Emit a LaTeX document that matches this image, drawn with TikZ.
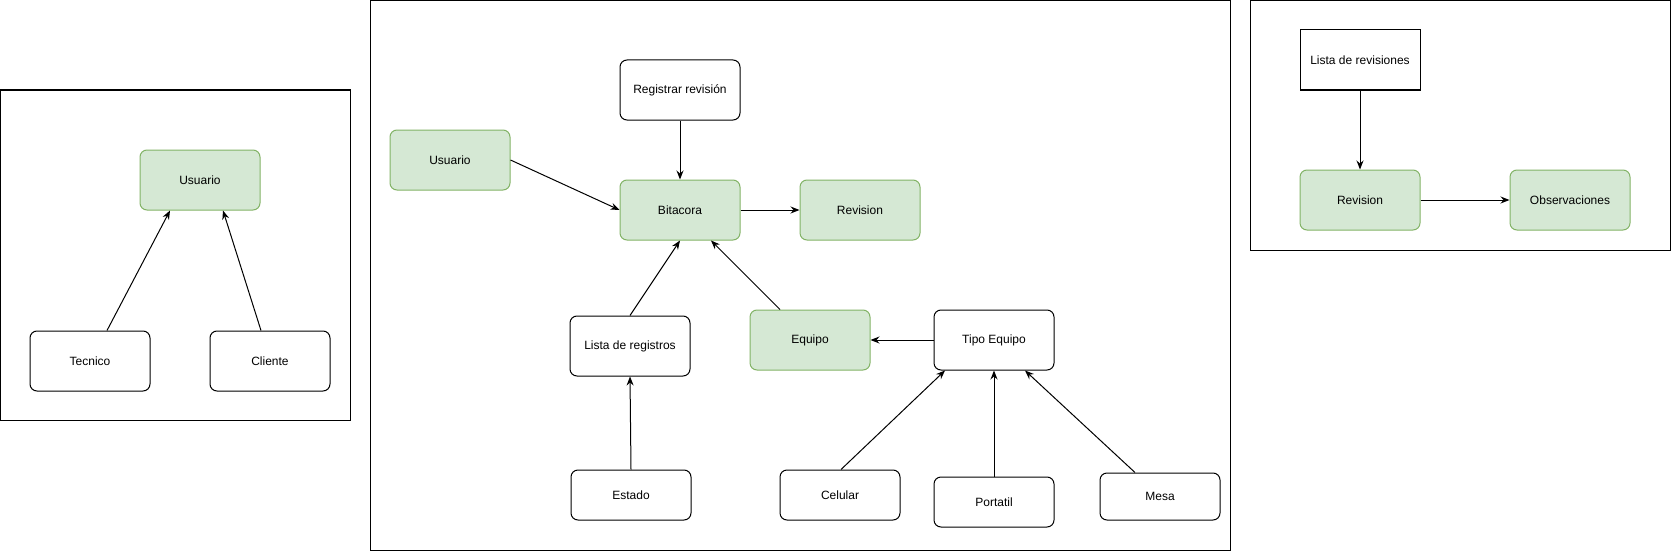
\documentclass[tikz,border=0pt]{standalone}
\usepackage{fontspec}
\setmainfont{Liberation Sans}
\usetikzlibrary{arrows.meta}
\definecolor{gfill}{HTML}{D5E8D4}
\definecolor{gline}{HTML}{82B366}
\tikzset{
  base/.style={draw, line width=1pt, minimum width=120pt, minimum height=60pt, inner sep=0pt, font=\fontsize{12pt}{14pt}\selectfont, rounded corners=7pt},
  plainbox/.style={base, fill=white, draw=black},
  greenbox/.style={base, fill=gfill, draw=gline},
  sharpbox/.style={base, rounded corners=0pt, fill=white, draw=black},
  frame/.style={draw=black, line width=1pt},
  conn/.style={draw=black, line width=1pt, -{Stealth[length=9pt,width=7pt,inset=3pt]}}
}
\begin{document}
\begin{tikzpicture}[x=1pt,y=-1pt]
\useasboundingbox (0,0) rectangle (1671,551);
% frames
\draw[frame] (0.5,90) rectangle (350.5,420);
\draw[frame] (370,1) rectangle (1230,550);
\draw[frame] (1250,1) rectangle (1670,250);
% left panel
\node[greenbox] (usuL) at (200,180) {Usuario};
\node[plainbox] (tec) at (90,361) {Tecnico};
\node[plainbox] (cli) at (270,361) {Cliente};
\draw[conn] ([xshift=17pt]tec.north) -- ([xshift=-30pt]usuL.south);
\draw[conn] ([xshift=-9pt]cli.north) -- ([xshift=23pt]usuL.south);
% middle panel
\node[greenbox] (usuM) at (450,160) {Usuario};
\node[plainbox] (reg) at (680,90) {Registrar revisión};
\node[greenbox] (bit) at (680,210) {Bitacora};
\node[greenbox] (revM) at (860,210) {Revision};
\node[plainbox] (lreg) at (630,346) {Lista de registros};
\node[greenbox] (equ) at (810,340) {Equipo};
\node[plainbox] (tipo) at (994,340) {Tipo Equipo};
\node[plainbox, minimum height=50pt] (est) at (631,495) {Estado};
\node[plainbox, minimum height=50pt] (cel) at (840,495) {Celular};
\node[plainbox, minimum height=50pt] (por) at (994,502) {Portatil};
\node[plainbox, minimum height=47pt] (mes) at (1160,496.5) {Mesa};
\draw[conn] (usuM.east) -- (bit.west);
\draw[conn] (reg.south) -- (bit.north);
\draw[conn] (bit.east) -- (revM.west);
\draw[conn] (lreg.north) -- (bit.south);
\draw[conn] ([xshift=-30pt]equ.north) -- ([xshift=31pt]bit.south);
\draw[conn] (tipo.west) -- (equ.east);
\draw[conn] (est.north) -- (lreg.south);
\draw[conn] ([xshift=1pt]cel.north) -- ([xshift=-49pt]tipo.south);
\draw[conn] (por.north) -- (tipo.south);
\draw[conn] ([xshift=-25pt]mes.north) -- ([xshift=31pt]tipo.south);
% right panel
\node[sharpbox] (lrev) at (1360,60) {Lista de revisiones};
\node[greenbox] (revR) at (1360,200) {Revision};
\node[greenbox] (obs) at (1570,200) {Observaciones};
\draw[conn] (lrev.south) -- (revR.north);
\draw[conn] (revR.east) -- (obs.west);
\end{tikzpicture}
\end{document}
